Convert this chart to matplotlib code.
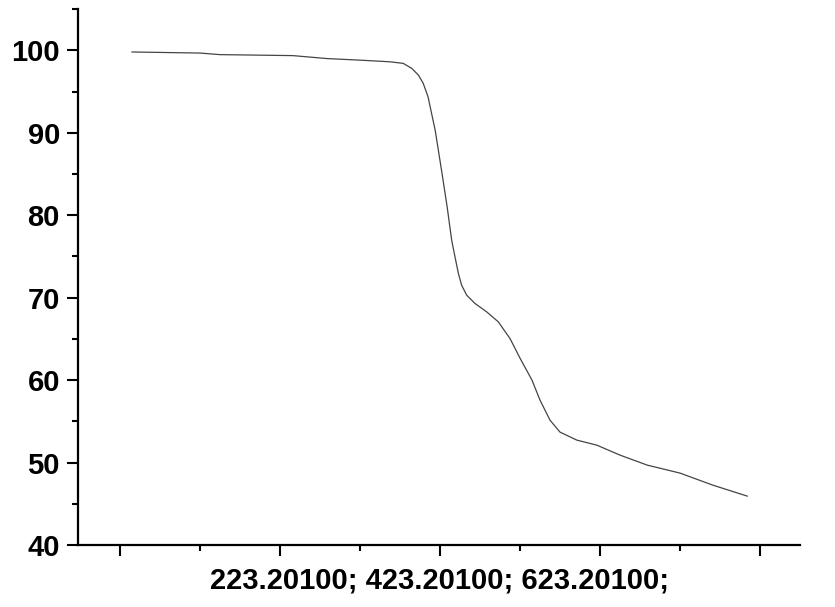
import numpy as np
import matplotlib.pyplot as plt
from matplotlib.ticker import MultipleLocator

# curve (x in arbitrary units, ticks every 100)
x = [115, 200, 225, 316, 359, 404, 437.5, 454, 464.6, 473, 479, 485, 494,
     502.5, 509, 514.6, 518.75, 523, 527, 533.4, 543.75, 558.4, 572.9, 587.5,
     600, 615, 625, 637.5, 650, 671, 696, 725, 759, 800, 841, 884]
y = [99.80, 99.67, 99.48, 99.36, 99.00, 98.79, 98.61, 98.42, 97.82, 97.00,
     96.00, 94.38, 90.30, 85.09, 80.97, 76.97, 74.95, 72.93, 71.52, 70.30,
     69.30, 68.28, 67.07, 65.05, 62.67, 60.00, 57.58, 55.15, 53.70, 52.73,
     52.12, 50.91, 49.70, 48.73, 47.27, 45.94]
y_ticks = [40, 50, 60, 70, 80, 90, 100]
x_label = '223.20100; 423.20100; 623.20100;'

plt.rcParams['font.family'] = ['Liberation Sans', 'DejaVu Sans']

fig = plt.figure(figsize=(8.35, 6.07), dpi=100)
ax = fig.add_axes([0.0934, 0.102, 0.8647, 0.883])

ax.plot(x, y, color='#444444', lw=0.9)

ax.set_xlim(47.5, 950)
ax.set_ylim(40, 105)

ax.spines['top'].set_visible(False)
ax.spines['right'].set_visible(False)
ax.spines['left'].set_linewidth(1.6)
ax.spines['bottom'].set_linewidth(1.6)

ax.set_yticks(y_ticks)
ax.yaxis.set_minor_locator(MultipleLocator(5))
ax.xaxis.set_minor_locator(MultipleLocator(100))
ax.set_xticks([100, 300, 500, 700, 900])
ax.set_xticklabels([])

ax.tick_params(axis='both', which='major', length=8, width=1.5, direction='out')
ax.tick_params(axis='both', which='minor', length=4.5, width=1.5, direction='out')
ax.tick_params(axis='y', labelsize=21, pad=5)
for lab in ax.get_yticklabels():
    lab.set_fontweight('bold')

ax.set_xlabel(x_label, fontsize=21, fontweight='bold', labelpad=4)

fig.savefig('out.png', dpi=100)
